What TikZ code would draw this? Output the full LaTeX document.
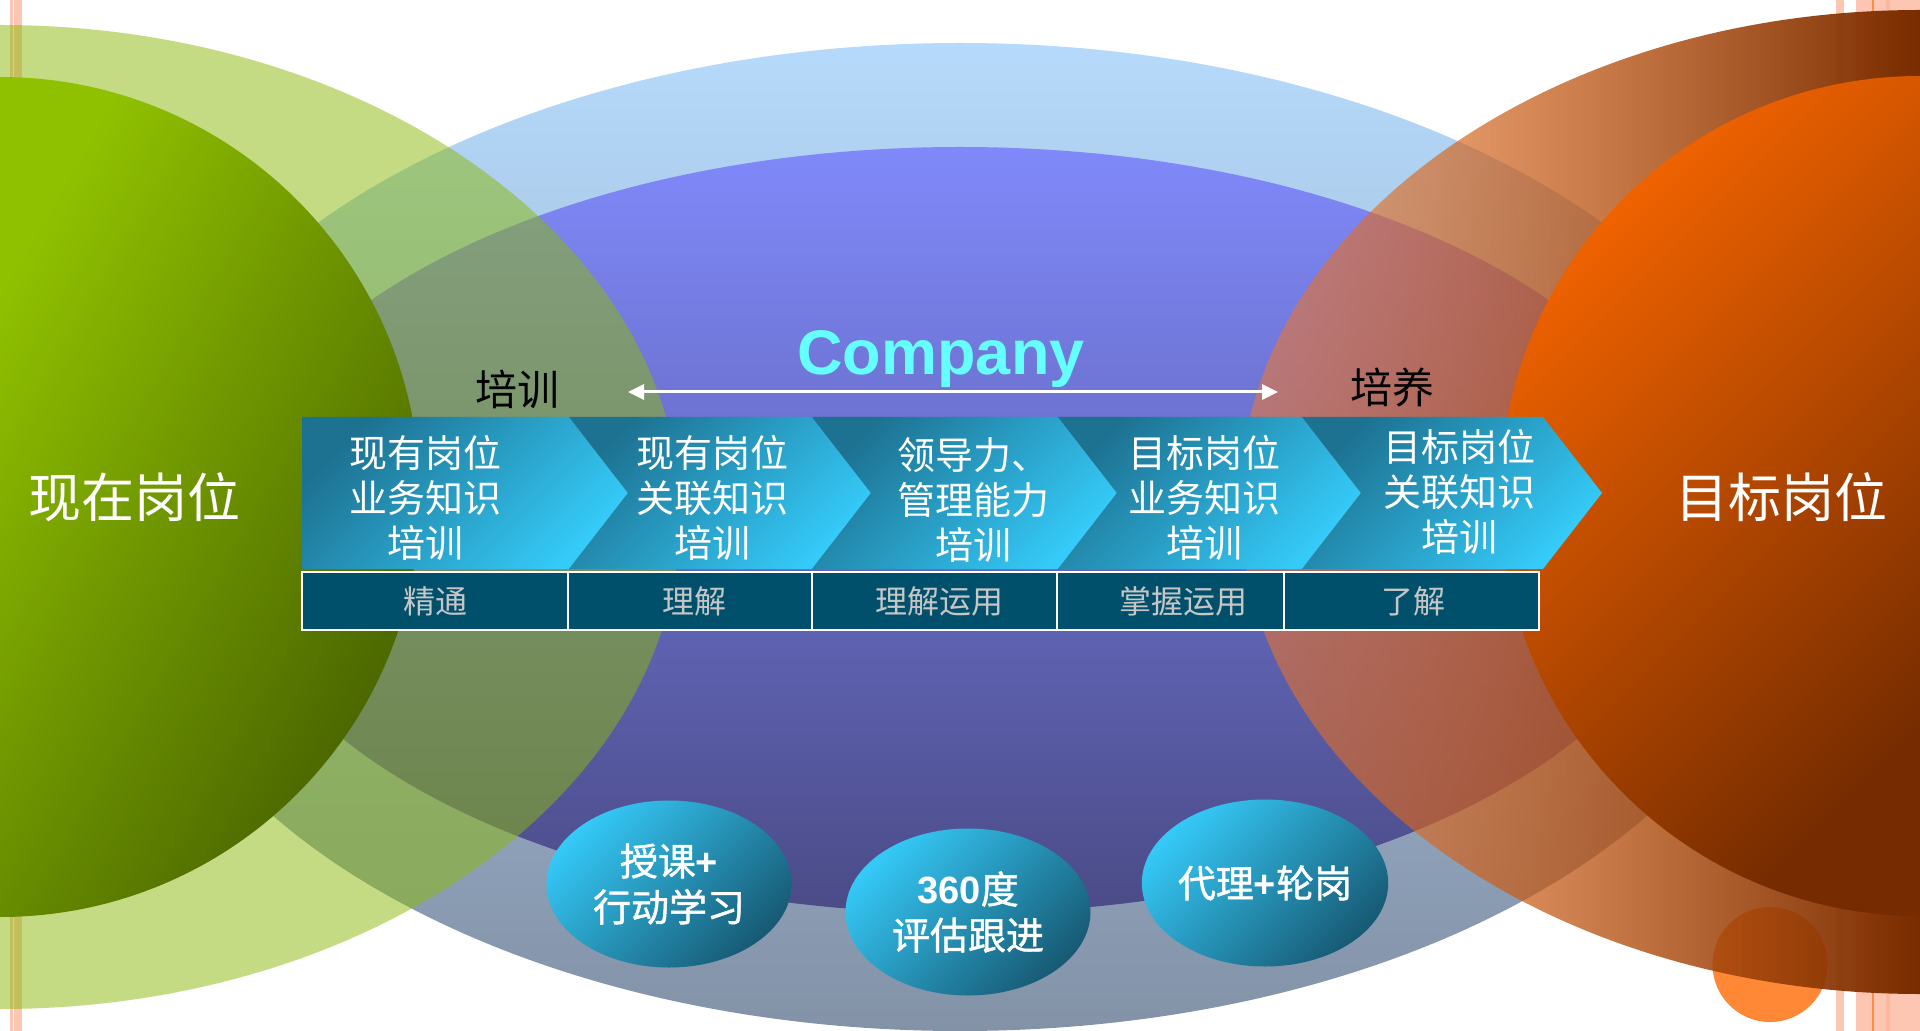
\documentclass[tikz,border=0pt]{standalone}
\usepackage{fontspec}
\setmainfont{Liberation Sans}
\newfontfamily\cjk{Noto Sans CJK SC}
\newfontfamily\cjkb[FakeBold=1.2]{Noto Sans CJK SC}
\newfontfamily\arialf{Liberation Sans}
\usetikzlibrary{shapes.geometric,arrows.meta,fadings}
\definecolor{pinkS}{HTML}{FDC6B2}
\definecolor{pinkD}{HTML}{FBB89C}
\definecolor{oraLine}{HTML}{FF8C40}
\definecolor{lbTop}{HTML}{B6DAFB}
\definecolor{lbBot}{HTML}{8392A7}
\definecolor{puTop}{HTML}{8089FA}
\definecolor{puMid}{HTML}{6C71CA}
\definecolor{puBot}{HTML}{4B4B87}
\definecolor{grT}{HTML}{8BB909}
\definecolor{dgL}{HTML}{90C100}
\definecolor{dgD}{HTML}{466000}
\definecolor{orL}{HTML}{F86600}
\definecolor{orM}{HTML}{D35400}
\definecolor{orD}{HTML}{762C00}
\definecolor{brL}{HTML}{FF7A22}
\definecolor{brR}{HTML}{782C00}
\definecolor{smallOr}{HTML}{FF8836}
\definecolor{chD}{HTML}{1D7292}
\definecolor{chL}{HTML}{35CBF9}
\definecolor{tblue}{HTML}{00506C}
\definecolor{tgray}{HTML}{C6C6C6}
\definecolor{bubL}{HTML}{35C9F7}
\definecolor{bubD}{HTML}{175A74}
\definecolor{compC}{HTML}{66FFFF}
\tikzfading[name=brownfade, left color=transparent!50, right color=transparent!0]
\begin{document}
\begin{tikzpicture}[x=0.5pt,y=-0.5pt,
  chev/.style={top color=chD, bottom color=chL, shading angle=45},
  cell/.style={fill=tblue, draw=white, line width=1pt},
  chevtext/.style={text=white, align=center, inner sep=0pt, font=\cjk\fontsize{19}{22.5}\selectfont},
  tbltext/.style={text=tgray, inner sep=0pt, font=\cjk\fontsize{16}{18}\selectfont},
  lbl/.style={text=black, inner sep=0pt, font=\cjk\fontsize{21}{24}\selectfont},
  big/.style={text=white, inner sep=0pt, font=\cjk\fontsize{26.5}{30}\selectfont},
  comp/.style={text=compC, inner sep=0pt, font=\arialf\bfseries\fontsize{31.5}{36}\selectfont},
  bubble/.style={ellipse, minimum width=122.5pt, minimum height=83.5pt, inner sep=0pt,
    top color=bubL, bottom color=bubD, shading angle=45, text=white, align=center,
    font=\cjkb\fontsize{19}{23}\selectfont},
  dbl/.style={draw=white, line width=1.5pt, {Triangle[length=8pt,width=7.5pt]}-{Triangle[length=8pt,width=7.5pt]}}
]
\useasboundingbox (0,0) rectangle (1920,1031);
\fill[white] (0,0) rectangle (1920,1031);
\clip (0,0) rectangle (1920,1031);
% decorative strips
\fill[pinkS] (10,0) rectangle (12.5,1031);
\fill[pinkS] (14,0) rectangle (22,1031);
\fill[pinkS] (1836,0) rectangle (1844,1031);
\fill[pinkS] (1856,0) rectangle (1920,1031);
\fill[pinkD] (1886,0) rectangle (1890,1031);
\fill[oraLine] (1871.5,0) rectangle (1873.5,1031);
% company ellipses
\shade[top color=lbTop, middle color=lbTop!60!lbBot, bottom color=lbBot] (960,537) ellipse [x radius=832, y radius=494];
\shade[top color=puTop, middle color=puMid, bottom color=puBot] (960,530) ellipse [x radius=736, y radius=383];
% small orange circle
\fill[smallOr] (1770,964.5) circle [radius=57.5];
% green big ellipse
\fill[grT, opacity=0.5] (0,517) ellipse [x radius=680, y radius=492];
% brown big ellipse
\begin{scope}
  \clip (1920,502) ellipse [x radius=680, y radius=492];
  \shade[left color=brL, right color=brR, path fading=brownfade, fit fading=true] (1240,0) rectangle (1920,1031);
\end{scope}
% dark green circle
\begin{scope}
  \clip (0,497) circle [radius=420];
  \shade[top color=dgL, bottom color=dgD, shading angle=60] (0,77) rectangle (420,917);
\end{scope}
% orange circle
\begin{scope}
  \clip (1920,496) circle [radius=420];
  \shade[top color=orL, middle color=orM, bottom color=orD, shading angle=45] (1500,76) rectangle (1920,916);
\end{scope}
% chevrons
\shade[chev] (302,417) -- (569,417) -- (628,493) -- (569,569) -- (302,569) -- cycle;
\foreach \a/\b in {569/812, 812/1058, 1058/1302, 1302/1543}
  \shade[chev] (\a,417) -- (\b,417) -- ({\b+59},493) -- (\b,569) -- (\a,569) -- ({\a+59},493) -- cycle;
% table
\foreach \a/\b in {302/568, 568/812, 812/1057, 1057/1284, 1284/1539}
  \draw[cell] (\a,572) rectangle (\b,630);
% chevron texts
\node[chevtext] (c1) at (425,498) {现有岗位\\业务知识\\培训};
\node[chevtext] (c2) at (712,498) {现有岗位\\关联知识\\培训};
\node[chevtext] (c3) at (973,500) {领导力、\\管理能力\\培训};
\node[chevtext] (c4) at (1204,498) {目标岗位\\业务知识\\培训};
\node[chevtext] (c5) at (1459,492) {目标岗位\\关联知识\\培训};
% table texts
\node[tbltext] (t1) at (435,601) {精通};
\node[tbltext] (t2) at (694,601) {理解};
\node[tbltext] (t3) at (939,601) {理解运用};
\node[tbltext] (t4) at (1183,601) {掌握运用};
\node[tbltext] (t5) at (1413,601) {了解};
% labels
\node[lbl] (px) at (517,389) {培训};
\node[lbl] (py) at (1392,387) {培养};
\node[comp, anchor=base] (co) at (941,375) {Company};
\coordinate (aL) at (628,392);
\coordinate (aR) at (1278,392);
\draw[dbl] (aL) -- (aR);
% big labels
\node[big] (cur) at (134,497) {现在岗位};
\node[big] (tgt) at (1781,497) {目标岗位};
% bubbles
\node[bubble] (b1) at (669,884) {授课{\arialf\bfseries +}\\行动学习};
\node[bubble] (b2) at (968,912) {{\arialf\bfseries 360}度\\评估跟进};
\node[bubble] (b3) at (1265,883) {代理{\arialf\bfseries +}轮岗};
\end{tikzpicture}
\end{document}
